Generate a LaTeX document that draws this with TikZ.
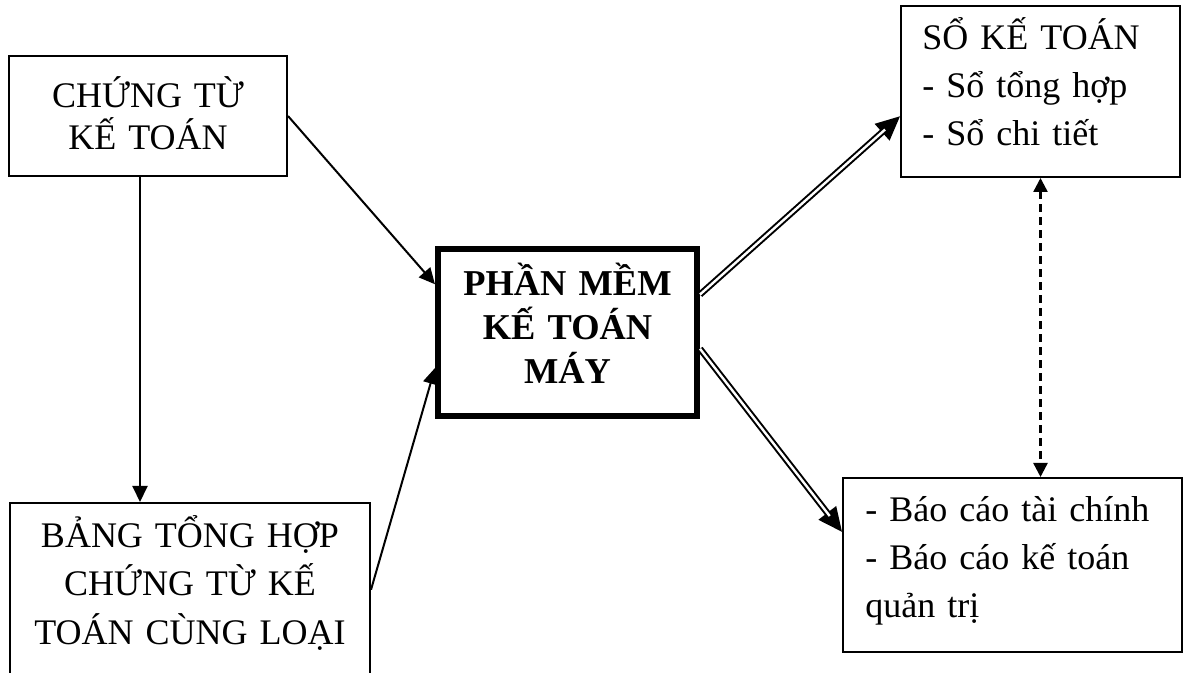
\documentclass[tikz,border=0pt]{standalone}
\usepackage{fontspec}
\setmainfont{Liberation Serif}
\usetikzlibrary{arrows.meta}
\begin{document}
\begin{tikzpicture}[x=0.5pt, y=-0.5pt,
  box/.style={draw, line width=1pt, inner sep=0pt},
  mainbox/.style={draw, line width=3pt, inner sep=0pt},
  txt/.style={inner sep=0pt, font=\fontsize{18}{24}\selectfont},
  ctxt/.style={txt, align=center, anchor=base},
  ltxt/.style={txt, align=left, anchor=base west},
  flow/.style={line width=1pt, -{Triangle[length=8pt,width=7.5pt]}},
  outtip/.style={line width=1pt, -{Triangle[length=12pt,width=11pt]}},
  outline/.style={double, line width=1pt, double distance=1.2pt},
  link/.style={line width=1.2pt, dash pattern=on 4pt off 2.5pt,
    {Triangle[length=7pt,width=7pt]}-{Triangle[length=7pt,width=7pt]}}
]
\useasboundingbox (0,0) rectangle (1184,673);

% boxes
\node[box, minimum width=139pt, minimum height=60pt] (chungtu) at (148,116) {};
\node[box, minimum width=180pt, minimum height=128.5pt] (bang) at (190,631.5) {};
\node[mainbox, minimum width=129.5pt, minimum height=83.5pt] (ppm) at (567.5,332.5) {};
\node[box, minimum width=139.5pt, minimum height=85.5pt] (so) at (1040.5,91.5) {};
\node[box, minimum width=169.5pt, minimum height=87pt] (bc) at (1012.5,565) {};

% texts
\node[ctxt, text width=135pt, font=\fontsize{18}{21}\selectfont] (chungtutext) at (148,108) {CHỨNG TỪ\\KẾ TOÁN};
\node[ctxt, text width=175pt] (bangtext) at (190,548) {BẢNG TỔNG HỢP\\CHỨNG TỪ KẾ\\TOÁN CÙNG LOẠI};
\node[ctxt, text width=125pt, font=\fontsize{18.2}{22}\selectfont\bfseries] (ppmtext) at (567.5,296) {PHẦN MỀM\\KẾ TOÁN\\MÁY};
\node[ltxt, text width=125pt] (sotext) at (922,50) {SỔ KẾ TOÁN\\- Sổ tổng hợp\\- Sổ chi tiết};
\node[ltxt, text width=155pt] (bctext) at (865,522) {- Báo cáo tài chính\\- Báo cáo kế toán\\quản trị};

% inputs
\draw[flow] ([xshift=-4pt]chungtu.south) -- ([xshift=-4pt]chungtu.south |- bang.north);
\draw[flow] (chungtu.east) -- (ppm.160);
\draw[flow] (bang.13.6) -- (ppm.195.2);

% outputs (double lines)
\draw[outtip] (ppm.16.9) -- (so.190.5);
\draw[outline, shorten >=10pt] (ppm.16.9) -- (so.190.5);
\draw[outtip] (ppm.-7.5) -- (bc.169.6);
\draw[outline, shorten >=10pt] (ppm.-7.5) -- (bc.169.6);

% link between ledgers and reports
\draw[link] (so.south) -- (so.south |- bc.north);
\end{tikzpicture}
\end{document}
